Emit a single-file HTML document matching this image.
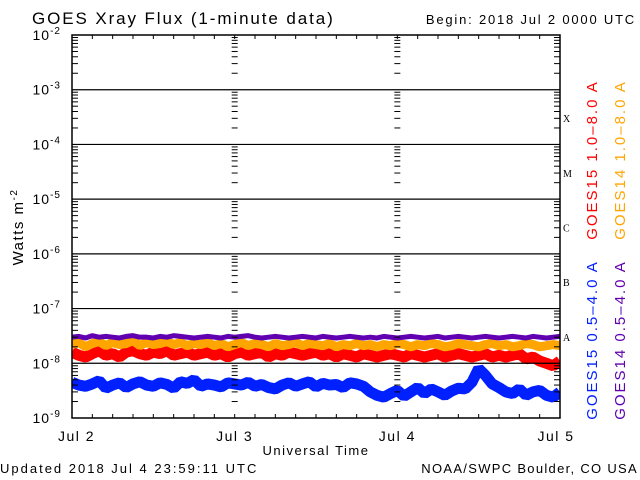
<!DOCTYPE html>
<html><head><meta charset="utf-8"><style>
html,body{margin:0;padding:0;background:#fff;}
svg{display:block;font-family:"Liberation Sans",sans-serif;}
</style></head><body>
<svg id="chart" width="640" height="480" viewBox="0 0 640 480"><defs><clipPath id="plotclip"><rect x="72" y="35" width="488" height="383"/></clipPath></defs></svg>
<script>
// Hourly values (units of 1e-9 W/m^2), Jul 2 00:00 to Jul 5 00:00
const hours = Array.from({length:73},(_,i)=>i);
const goes14Long = [30,31,29,32,30,31,30,29,31,32,30,30,29,31,30,32,31,30,29,30,31,30,29,31,30,31,32,30,29,30,31,30,29,30,31,30,29,31,30,29,30,31,30,29,30,29,31,30,29,30,31,30,29,30,31,29,30,31,30,29,30,31,30,29,30,31,30,29,31,30,29,30,31];
const goes15Long = [22,24,20,23,25,21,24,22,23,26,21,24,22,23,25,22,24,21,23,22,24,21,23,20,22,24,21,23,22,20,23,21,22,24,21,23,22,21,23,20,22,21,23,21,22,20,22,21,23,22,20,22,21,23,22,20,21,23,22,21,20,22,23,21,22,20,21,23,22,20,21,22,21];
const goes15Short = [16,14,13,15,17,14,15,13,16,17,15,14,16,15,17,14,15,16,14,15,16,14,15,13,15,16,14,15,16,13,15,14,16,15,14,15,16,14,15,13,15,14,13,15,14,13,14,15,14,13,15,14,13,14,15,13,14,15,14,13,14,15,13,14,13,14,15,12,13,11,10,9,11];
const goes15Low = [4.5,4,3.8,4.2,4.8,3.5,4,4.4,3.6,4.2,4.6,4,3.8,4.4,4.1,3.5,4.6,4.3,5,3.8,4.2,4,3.7,4.4,4.2,4,4.5,3.8,4.1,3.6,3.4,4,4.4,3.8,4.2,4.6,3.7,4.3,4,4.1,3.6,4.4,4.2,3.8,3,2.6,2.4,2.8,3.2,2.5,3,3.6,2.8,3.4,3,2.6,3.1,3.5,3.4,4.5,8,6,4.2,3.6,3,2.8,3.4,2.6,3,3.2,2.6,2.4,3];
const yTickExp = [-2,-3,-4,-5,-6,-7,-8,-9];
const dayLabels = ["Jul 2","Jul 3","Jul 4","Jul 5"];
const flareClasses = ["X","M","C","B","A"];

const NS="http://www.w3.org/2000/svg";
const svg=document.getElementById('chart');
const L=72,R=560,T=35,B=418;
const xs=h=>L+(R-L)*h/72;
const ys=v=>T+(B-T)*(-2-Math.log10(v))/7;
function mk(tag,attrs,parent){const e=document.createElementNS(NS,tag);for(const k in attrs)e.setAttribute(k,attrs[k]);(parent||svg).appendChild(e);return e;}
function txt(x,y,s,size,fill,anchor,extra){const e=mk('text',Object.assign({x:x,y:y,'font-size':size,fill:fill||'#000','text-anchor':anchor||'start'},extra||{}));e.textContent=s;return e;}

// title
let t=txt(32,24,"GOES Xray Flux (1-minute data)",17,'#000','start',{'letter-spacing':'1.9'});


t=txt(636,24,"Begin:  2018 Jul 2 0000 UTC",13,'#000','end',{'letter-spacing':'1.8'});



// series
const plotG=mk('g',{'clip-path':'url(#plotclip)'});


const series=[[goes15Low,'#0020ff','goes15-short-line',11],[goes15Short,'#ff0000','goes15-long-line',11],[goes15Long,'#ffa500','goes14-long-line',9],[goes14Long,'#6000b0','goes14-short-line',5]];
series.forEach(([d,c,n,w])=>{
  const p=mk('polyline',{points:d.map((v,i)=>xs(hours[i])+','+ys(v*1e-9)).join(' '),fill:'none',stroke:c,'stroke-width':w,'stroke-linejoin':'bevel'},plotG);
  
  
});

// grid lines
yTickExp.forEach(e=>{
  const y=ys(Math.pow(10,e));
  if(e>-9&&e<-2){const g=mk('line',{x1:L,x2:R,y1:y,y2:y,stroke:'#000','stroke-width':1.2});
    
    }
  const lab=mk('text',{x:61,y:y+5,'font-size':14,'text-anchor':'end','letter-spacing':'1'});
  lab.innerHTML='10<tspan dy="-6" font-size="10">'+e+'</tspan>';
  
  
  if(e>-9){for(let m=2;m<=9;m++){const yy=ys(m*Math.pow(10,e-1));
    [L,xs(24),xs(48),R].forEach((x,k)=>{
      const len=6;
      if(k===0)mk('line',{x1:x,x2:x+len,y1:yy,y2:yy,stroke:'#000'});
      else if(k===3)mk('line',{x1:x,x2:x-len,y1:yy,y2:yy,stroke:'#000'});
      else mk('line',{x1:x-3,x2:x+3,y1:yy,y2:yy,stroke:'#000'});
    });}}
});
// x ticks
for(let h=0;h<=72;h+=3){const x=xs(h);mk('line',{x1:x,x2:x,y1:T,y2:T+4,stroke:'#000'});mk('line',{x1:x,x2:x,y1:B,y2:B-4,stroke:'#000'});}
dayLabels.forEach((d,i)=>{const e=txt(xs(i*24)+(i===0?-14:(i===3?-4:0)),441,d,14,'#000',i===0?'start':'middle',{'letter-spacing':'1.5'});
  
  });
// frame
const fr=mk('rect',{x:L,y:T,width:R-L,height:B-T,fill:'none',stroke:'#000','stroke-width':1.5});


flareClasses.forEach((c,i)=>{const e=txt(563,ys(Math.pow(10,-3.5-i))+5,c,10,'#000','start',{'font-family':'Liberation Serif, serif'});
  
  });

t=txt(316,455,"Universal Time",13,'#000','middle',{'letter-spacing':'1.5'});


t=mk('text',{x:0,y:0,'font-size':15,'text-anchor':'middle','letter-spacing':'1.5',transform:'translate(23,227) rotate(-90)'});
t.innerHTML='Watts m<tspan dy="-6" font-size="10">-2</tspan>';


t=txt(0,473,"Updated 2018 Jul  4 23:59:11 UTC",13,'#000','start',{'letter-spacing':'2','xml:space':'preserve'});


t=txt(638,473,"NOAA/SWPC Boulder, CO USA",13,'#000','end',{'letter-spacing':'1.3'});



const leg=[["GOES15 1.0\u20138.0 A",'#ff0000',597,160],["GOES14 1.0\u20138.0 A",'#ffa500',625,160],["GOES15 0.5\u20134.0 A",'#0020ff',597,340],["GOES14 0.5\u20134.0 A",'#6000b0',625,340]];
leg.forEach(([s,c,x,y])=>{const e=mk('text',{x:0,y:0,'font-size':15,fill:c,'text-anchor':'middle','letter-spacing':'2',transform:'translate('+x+','+y+') rotate(-90)'});e.textContent=s;
  
  });
</script>
</body></html>
